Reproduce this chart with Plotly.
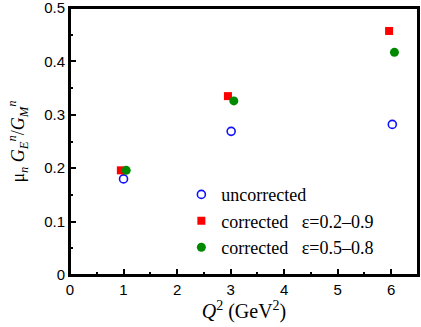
import plotly.graph_objects as go

q2_unc = [1.0, 3.01, 6.02]
r_unc = [0.180, 0.269, 0.282]

q2_c1 = [0.95, 2.95, 5.96]
r_c1 = [0.196, 0.335, 0.457]

q2_c2 = [1.05, 3.06, 6.06]
r_c2 = [0.196, 0.326, 0.417]

serif = "Liberation Serif, Times New Roman, serif"
sans = "Liberation Sans, Arial, sans-serif"

fig = go.Figure()
fig.add_trace(go.Scatter(
    x=q2_unc, y=r_unc, mode="markers", name="uncorrected",
    marker=dict(symbol="circle-open", size=8, color="#1010ff", line=dict(width=1.6))
))
fig.add_trace(go.Scatter(
    x=q2_c1, y=r_c1, mode="markers", name="corrected   \u03b5=0.2\u20130.9",
    marker=dict(symbol="square", size=8, color="#ff0000")
))
fig.add_trace(go.Scatter(
    x=q2_c2, y=r_c2, mode="markers", name="corrected   \u03b5=0.5\u20130.8",
    marker=dict(symbol="circle", size=9, color="#008a00")
))

axis_common = dict(
    showline=True, linecolor="black", linewidth=2, mirror=True,
    ticks="inside", ticklen=6, tickwidth=2, tickcolor="black",
    showgrid=False, zeroline=False, automargin=False,
    ticklabeloverflow="allow",
    tickfont=dict(family=sans, size=15, color="black"),
)

fig.update_layout(
    template="simple_white",
    width=421, height=327,
    margin=dict(l=70, r=3, t=8, b=52, autoexpand=False),
    plot_bgcolor="white", paper_bgcolor="white",
    showlegend=True,
    legend=dict(x=0.32, y=0.37, xanchor="left", yanchor="top",
                font=dict(family=serif, size=18, color="black"),
                bgcolor="rgba(0,0,0,0)", itemwidth=30),
    xaxis=dict(range=[0, 6.5], dtick=1,
               minor=dict(dtick=0.5, ticks="inside", ticklen=3),
               title=dict(text="<i>Q</i><sup>2</sup> (GeV<sup>2</sup>)",
                          font=dict(family=serif, size=20, color="black"), standoff=0),
               **axis_common),
    yaxis=dict(range=[0, 0.5], dtick=0.1,
               minor=dict(dtick=0.05, ticks="inside", ticklen=3),
               title=dict(text="\u03bc<sub><i>n</i></sub> <i>G</i><sub><i>E</i></sub><sup><i>n</i></sup>/<i>G</i><sub><i>M</i></sub><sup><i>n</i></sup>",
                          font=dict(family=serif, size=18, color="black"), standoff=15),
               **axis_common),
)

# plot frame (override template shape defaults)
fig.add_shape(type="rect", xref="paper", yref="paper", x0=0, y0=0, x1=1, y1=1,
              line=dict(color="black", width=2), fillcolor="rgba(0,0,0,0)",
              opacity=1, layer="above")

fig.write_html("out.html", config={"displayModeBar": False},
               post_script="document.body.style.margin='0';")
